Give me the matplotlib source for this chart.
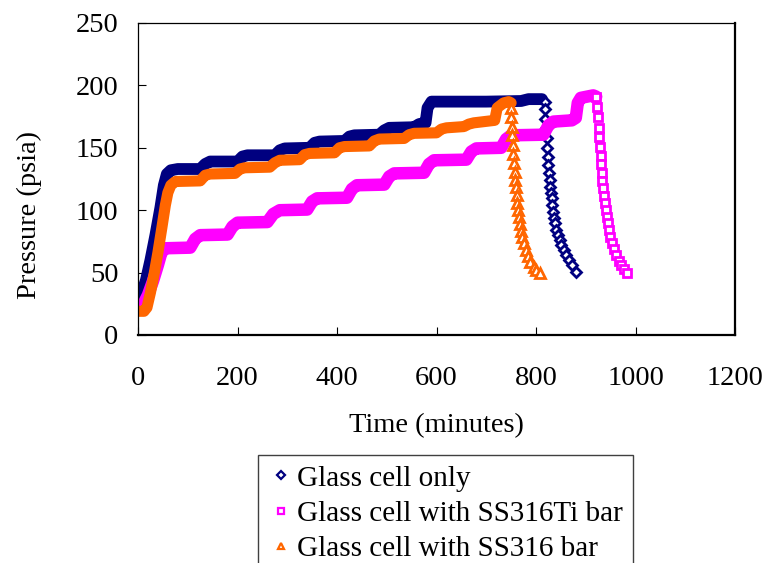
import matplotlib
matplotlib.use("Agg")
import matplotlib.pyplot as plt
from matplotlib.lines import Line2D

plt.rcParams["font.family"] = ["Liberation Serif", "DejaVu Serif"]

# Glass cell only: pressurising / holding steps, then venting
glass_hold_t = [0, 8, 16, 25, 35, 45, 52, 58, 66, 80, 125, 135, 145, 200, 210, 220,
                275, 285, 295, 345, 355, 365, 415, 425, 435, 485, 495, 505, 555,
                565, 578, 582, 590, 700, 770, 785, 812]
glass_hold_p = [30, 34, 44, 60, 80, 102, 120, 129, 132, 133, 133, 137, 139, 139, 143,
                144, 144, 148, 149.5, 150, 154, 155, 155.5, 159, 160, 160.5, 164, 166,
                166.5, 169, 170, 182, 187, 187, 187.5, 189, 189]
glass_vent_t = [817.3, 817.3, 818.6, 820.6, 821.3, 822.6, 824, 824.6, 826, 827.3, 828.7,
                830, 831.3, 832.7, 834.7, 836.7, 838.7, 840.7, 844, 847.4, 850.7, 855.4,
                860.8, 866.1, 871.5, 879.5]
glass_vent_p = [187, 180.8, 172.8, 165.6, 157.6, 149.6, 142.9, 136.2, 129.5, 124.2, 118.9,
                113.5, 109.5, 104.2, 98.8, 93.5, 89.5, 84.1, 80.1, 76.1, 72.1, 68.1, 64.1,
                60.1, 56.1, 50.7]

# Glass cell with SS316Ti bar
ti_hold_t = [0, 10, 20, 30, 40, 47, 55, 105, 115, 125, 180, 190, 200, 260, 272, 285, 340,
             350, 360, 420, 430, 440, 495, 505, 515, 575, 585, 595, 660, 670, 680, 730,
             740, 750, 815, 825, 835, 872, 880, 884, 890, 915, 921]
ti_hold_p = [22, 24, 32, 43, 56, 66, 69.5, 70, 77, 80, 80.5, 87, 90, 90.5, 97, 100, 100.5,
             107, 109.5, 110, 117, 120, 120.5, 127, 129.5, 130, 137, 140, 140.5, 147, 149.5,
             150, 157, 160, 160.5, 168, 171, 172, 174, 186, 190, 192, 191]
ti_vent_t = [921, 922.3, 923.7, 925.7, 927.1, 928.4, 929.7, 930.4, 931.7, 933.1, 934.4,
             935.7, 937.8, 939.8, 941.8, 943.8, 946.5, 949.2, 952.5, 956.5, 961.2, 966.5,
             971.2, 975.9, 982.6]
ti_vent_p = [190.4, 182.4, 174.4, 165.6, 158.4, 150.9, 143.4, 136.8, 130.1, 123.7, 117.5,
             111.4, 105.5, 100.2, 94.8, 89.5, 84.1, 78.8, 73.5, 68.7, 64.1, 59.6, 56.1,
             52.6, 49.9]

# Glass cell with SS316 bar
ss_hold_t = [0, 12, 18, 25, 32, 40, 48, 55, 60, 66, 75, 125, 135, 145, 195, 205, 215, 265,
             275, 285, 325, 335, 345, 395, 405, 415, 465, 475, 485, 535, 545, 555, 600,
             610, 620, 655, 665, 675, 717, 722, 735, 745, 750]
ss_hold_p = [19, 19, 22, 34, 48, 66, 86, 104, 114, 120, 123, 123.5, 128, 129, 129.5, 133,
             134, 134.5, 138, 140, 140.5, 144.5, 145.5, 146, 150, 151, 151.5, 155.5, 157,
             157.5, 160.5, 161.6, 162, 165, 166, 167, 169, 170, 172, 182, 186, 187, 186]
ss_vent_t = [750.3, 750.3, 751, 752.4, 753, 754.4, 755.7, 757, 758.4, 759.7, 761, 762.4,
             763.7, 765.7, 767.7, 769.7, 772.4, 775.1, 779.1, 783.1, 788.5, 795.2, 800.5,
             807.2]
ss_vent_p = [181.6, 174.4, 166.9, 160.3, 152.2, 145, 138.1, 130.9, 124.2, 118.3, 112.2, 106,
             100.2, 94.8, 88.9, 83.6, 78.8, 73.5, 68.1, 63.3, 58.8, 54.8, 52.1, 49.4]

labels = ["Glass cell only", "Glass cell with SS316Ti bar", "Glass cell with SS316 bar"]

series = [
    (glass_hold_t, glass_hold_p, glass_vent_t, glass_vent_p, "#000080", "D", 5.2, 8.5),
    (ti_hold_t, ti_hold_p, ti_vent_t, ti_vent_p, "#FF00FF", "s", 6.2, 9.0),
    (ss_hold_t, ss_hold_p, ss_vent_t, ss_vent_p, "#FF6600", "^", 6.5, 8.0),
]

fig = plt.figure(figsize=(7.68, 5.63), dpi=100)
ax = fig.add_axes([138 / 768, 1 - 335 / 563, 597 / 768, 312 / 563])

handles = []
for (ht, hp, vt, vp, col, mk, ms, lw), lab in zip(series, labels):
    ax.plot(ht, hp, "-", color=col, lw=lw, solid_capstyle="round", solid_joinstyle="round")
    ax.plot(vt, vp, ls="none", marker=mk, ms=ms, mfc="white", mec=col, mew=2.0)
    # small open marker for the legend key
    handles.append(Line2D([], [], ls="none", marker=mk, ms=ms * 0.75, mfc="white",
                          mec=col, mew=1.6, label=lab))

ax.set_xlim(0, 1200)
ax.set_ylim(0, 250)
ax.set_xticks(range(0, 1201, 200))
ax.set_yticks(range(0, 251, 50))
ax.tick_params(direction="in", length=6, width=0.8, labelsize=20.5, colors="black")
ax.tick_params(axis="x", pad=22)
ax.tick_params(axis="y", pad=14)
for side in ["left", "top"]:
    ax.spines[side].set_linewidth(0.9)
for side in ["right", "bottom"]:
    ax.spines[side].set_linewidth(1.6)

ax.set_xlabel("Time (minutes)", fontsize=20.5)
ax.set_ylabel("Pressure (psia)", fontsize=20.5)
ax.xaxis.set_label_coords(0.5, -0.25)
ax.yaxis.set_label_coords(-0.16, 0.385)

leg = fig.legend(handles=handles, loc="upper left",
                 bbox_to_anchor=(258 / 768, 1 - 455 / 563), fontsize=21,
                 frameon=True, fancybox=False, edgecolor="#404040", framealpha=1,
                 handlelength=0.9, handletextpad=0.1, borderpad=0.35,
                 labelspacing=0.3, borderaxespad=0)
leg.get_frame().set_linewidth(1.0)

fig.savefig("out.png", dpi=100)
